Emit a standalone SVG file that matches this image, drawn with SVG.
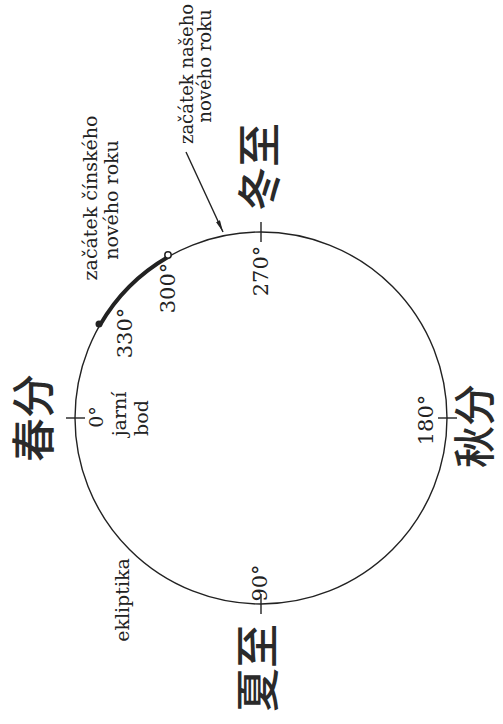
<svg xmlns="http://www.w3.org/2000/svg" width="503" height="724" viewBox="0 0 503 724">
<defs>
<style>
.lbl{font-family:"DejaVu Serif","Liberation Serif",serif;font-size:19px;fill:#222;text-anchor:middle}
.deg{font-family:"DejaVu Serif","Liberation Serif",serif;font-size:21px;fill:#222;text-anchor:middle}
.cjk{font-family:"Noto Sans CJK SC","Noto Sans CJK JP",sans-serif;font-size:44px;font-weight:500;fill:#2a2a2a;text-anchor:middle}
.ln{stroke:#222;fill:none;stroke-width:1.4}
</style>
<marker id="ah" viewBox="0 0 12 6" refX="12" refY="3" markerWidth="12" markerHeight="6" orient="auto" markerUnits="userSpaceOnUse">
<path d="M0,0.8 L12,3 L0,5.2 Z" fill="#222"/>
</marker>
</defs>
<rect width="503" height="724" fill="#fff"/>
<g id="ecliptic">
<circle class="ln" cx="261" cy="418" r="186"/>
<path d="M100,325 A186,186 0 0 1 168,257" stroke="#222" stroke-width="4" fill="none"/>
<circle cx="99" cy="324" r="3.5" fill="#222"/>
<circle cx="168" cy="255" r="3.2" fill="#fff" stroke="#222" stroke-width="1.5"/>
</g>
<g id="ticks">
<line class="ln" x1="66" y1="418" x2="85" y2="418"/>
<line class="ln" x1="438" y1="418" x2="457" y2="418"/>
<line class="ln" x1="261" y1="222" x2="261" y2="242"/>
<line class="ln" x1="261" y1="594" x2="261" y2="614"/>
</g>
<g id="connectors">
<line class="ln" x1="186" y1="152" x2="223" y2="232" marker-end="url(#ah)"/>
</g>
<g id="node-chunfen"><text class="cjk" transform="translate(50,418) rotate(-90)">春分</text></g>
<g id="node-dongzhi"><text class="cjk" transform="translate(276,167) rotate(-90)">冬至</text></g>
<g id="node-qiufen"><text class="cjk" style="font-size:42px" transform="translate(490,426) rotate(-90)">秋分</text></g>
<g id="node-xiazhi"><text class="cjk" transform="translate(274,668) rotate(-90)">夏至</text></g>
<g id="labels">
<text class="deg" style="font-size:19px" transform="translate(103,417) rotate(-90)">0°</text>
<text class="lbl" transform="translate(126,414) rotate(-90)">jarní</text>
<text class="lbl" transform="translate(148,418) rotate(-90)">bod</text>
<text class="deg" transform="translate(132,333) rotate(-90)">330°</text>
<text class="deg" transform="translate(175,288) rotate(-90)">300°</text>
<text class="deg" transform="translate(268,271) rotate(-90)">270°</text>
<text class="deg" transform="translate(433,420) rotate(-90)">180°</text>
<text class="deg" transform="translate(267,583) rotate(-90)">90°</text>
<text class="lbl" transform="translate(129,600) rotate(-90)">ekliptika</text>
<text class="lbl" transform="translate(97,198) rotate(-90)">začátek čínského</text>
<text class="lbl" transform="translate(118,200) rotate(-90)">nového roku</text>
<text class="lbl" style="font-size:18px" transform="translate(193,74) rotate(-90)">začátek našeho</text>
<text class="lbl" style="font-size:18px" transform="translate(211,66) rotate(-90)">nového roku</text>
</g>
</svg>
